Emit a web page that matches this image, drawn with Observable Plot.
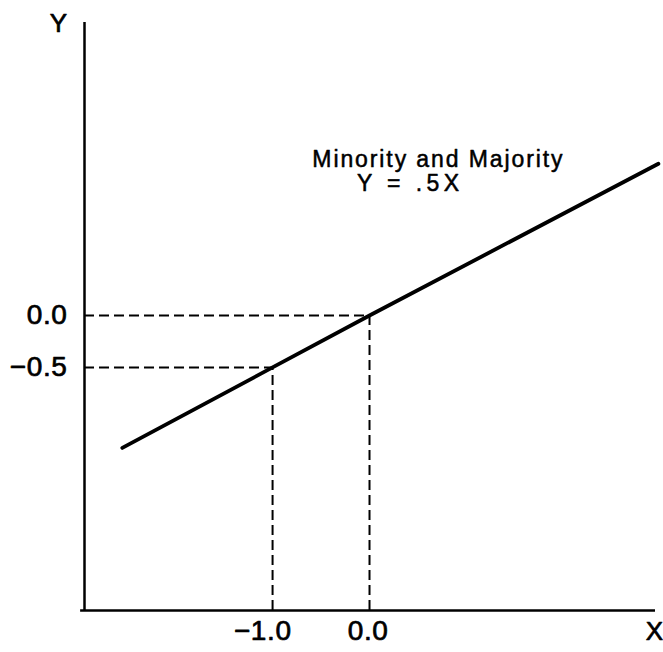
<!DOCTYPE html>
<html>
<head>
<meta charset="utf-8">
<script src="https://cdn.jsdelivr.net/npm/d3@7"></script>
<script src="https://cdn.jsdelivr.net/npm/@observablehq/plot@0.6"></script>
<style>
  html, body { margin: 0; padding: 0; background: #fff; }
  svg { display: block; }
  .note text { letter-spacing: 1.9px; }
  .note2 text { letter-spacing: 4.4px; }
  .tick text { letter-spacing: 0.6px; }
</style>
</head>
<body>
<div id="chart"></div>
<script>
// Axis extents (data units)
const xExtent = [-2.94, 2.95];
const yExtent = [-2.84, 2.82];

// The line Y = .5X
const lineX = [-2.55, -1.0, 0.0, 2.98];
const lineY = [-1.275, -0.5, 0.0, 1.46];

// Marked reference points (dashed guides)
const guideX = [-1.0, 0.0];
const guideY = [-0.5, 0.0];

// Tick labels
const xTickLabels = ["\u22121.0", "0.0"];
const yTickLabels = ["\u22120.5", "0.0"];

// Annotation
const annotationTitle = "Minority and Majority";
const annotationEquation = "Y = .5X";
const annotationX = [-0.59, -0.13];
const annotationY = [1.50, 1.27];

const line = lineX.map((x, i) => ({x, y: lineY[i]}));
const guides = guideX.map((x, i) => ({x, y: guideY[i]}));
const xTicks = guideX.map((x, i) => ({x, label: xTickLabels[i]}));
const yTicks = guideY.map((y, i) => ({y, label: yTickLabels[i]}));

const font = "'Liberation Sans', Arial, Helvetica, sans-serif";
const heavy = {fill: "#000", stroke: "#000", strokeWidth: 0.7};

const chart = Plot.plot({
  width: 663,
  height: 652,
  style: {fontFamily: font, background: "#fff", color: "#000"},
  x: {domain: xExtent, range: [84, 655], axis: null},
  y: {domain: yExtent, range: [610, 22], axis: null},
  marks: [
    // dashed horizontal guides
    Plot.ruleY(guides, {y: "y", x1: xExtent[0], x2: "x", stroke: "#000", strokeWidth: 2, strokeDasharray: "10,5"}),
    // dashed vertical guides
    Plot.ruleX(guides, {x: "x", y1: yExtent[0], y2: "y", stroke: "#000", strokeWidth: 2, strokeDasharray: "10,5"}),
    // axes
    Plot.ruleX([xExtent[0]], {y1: yExtent[0], y2: yExtent[1], stroke: "#000", strokeWidth: 2.5}),
    Plot.ruleY([yExtent[0]], {x1: xExtent[0] - 0.04, x2: xExtent[1], stroke: "#000", strokeWidth: 2.5}),
    // main line
    Plot.line(line, {x: "x", y: "y", stroke: "#000", strokeWidth: 3.8, strokeLinecap: "round"}),
    // tick labels
    Plot.text(xTicks, {x: "x", y: yExtent[0], text: "label", dy: 21, dx: 19, fontSize: 28, textAnchor: "end", className: "tick", ...heavy}),
    Plot.text(yTicks, {x: xExtent[0], y: "y", text: "label", dx: -17, fontSize: 28, textAnchor: "end", className: "tick", ...heavy}),
    // axis titles
    Plot.text(["X"], {x: xExtent[1], y: yExtent[0], text: d => d, dy: 21, dx: -1, fontSize: 26, ...heavy}),
    Plot.text(["Y"], {x: xExtent[0], y: yExtent[1], text: d => d, dx: -26, dy: 1, fontSize: 26, ...heavy}),
    // annotation
    Plot.text([annotationTitle], {x: annotationX[0], y: annotationY[0], text: d => d, textAnchor: "start", fontSize: 23, className: "note", ...heavy, strokeWidth: 0.5}),
    Plot.text([annotationEquation], {x: annotationX[1], y: annotationY[1], text: d => d, textAnchor: "start", fontSize: 23, className: "note2", ...heavy, strokeWidth: 0.5})
  ]
});
document.getElementById("chart").appendChild(chart);
</script>
</body>
</html>
